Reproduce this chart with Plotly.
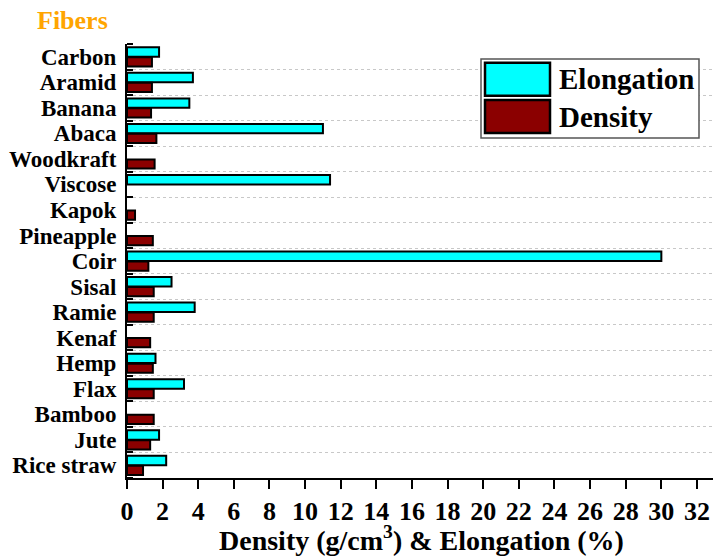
import plotly.graph_objects as go

# ---- data (top to bottom as shown) ----
fibers = ["Carbon", "Aramid", "Banana", "Abaca", "Woodkraft", "Viscose", "Kapok",
          "Pineapple", "Coir", "Sisal", "Ramie", "Kenaf", "Hemp", "Flax",
          "Bamboo", "Jute", "Rice straw"]
elongation = [1.8, 3.7, 3.5, 11.0, None, 11.4, None, None, 30.0, 2.5, 3.8,
              None, 1.6, 3.2, None, 1.8, 2.2]
density = [1.4, 1.4, 1.35, 1.65, 1.55, None, 0.45, 1.45, 1.2, 1.5, 1.5,
           1.3, 1.45, 1.5, 1.5, 1.3, 0.9]
x_ticks = list(range(0, 33, 2))

ypos = list(range(len(fibers) - 1, -1, -1))

FONT = "Liberation Serif"
W, H = 713, 559
L, R, T, B = 127, 0, 44, 81
pw, ph = W - L - R, H - T - B


def px(x):
    return (x - L) / pw


def py(y):
    return (H - B - y) / ph


fig = go.Figure()
fig.add_trace(go.Bar(
    orientation="h", x=elongation, y=ypos, name="Elongation",
    width=0.37, offset=0.0,
    marker=dict(color="#00FFFF", line=dict(color="black", width=2)),
))
fig.add_trace(go.Bar(
    orientation="h", x=density, y=ypos, name="Density",
    width=0.36, offset=-0.38,
    marker=dict(color="#8B0000", line=dict(color="black", width=2)),
))

fig.update_layout(
    width=W, height=H,
    margin=dict(l=L, r=R, t=T, b=B, autoexpand=False),
    paper_bgcolor="white", plot_bgcolor="white",
    showlegend=False,
    xaxis=dict(
        range=[0, 32.9], tickvals=x_ticks, ticktext=[str(v) for v in x_ticks],
        showline=True, linecolor="black", linewidth=2,
        ticks="outside", ticklen=9, tickwidth=2, tickcolor="black",
        tickfont=dict(family=FONT, size=26, color="black", weight="bold"),
        showgrid=False, zeroline=False,
    ),
    yaxis=dict(
        range=[-0.5, 16.5], tickvals=ypos, ticktext=fibers,
        ticks="", showline=True, linecolor="black", linewidth=2,
        tickfont=dict(family=FONT, size=23, color="black", weight="bold"),
        ticklabelstandoff=4,
        showgrid=False, zeroline=False,
        minor=dict(tick0=0.5, dtick=1, ticks="inside", ticklen=6, tickwidth=2,
                   tickcolor="black", showgrid=True, gridcolor="#c8c8c8",
                   griddash="dot", gridwidth=1),
    ),
)

# axis title
fig.add_annotation(
    xref="paper", yref="paper", x=px(421), y=py(538),
    text="Density (g/cm<sup>3</sup>) & Elongation (%)", showarrow=False,
    xanchor="center", yanchor="middle",
    font=dict(family=FONT, size=28, color="black", weight="bold"),
)
# "Fibers" heading
fig.add_annotation(
    xref="paper", yref="paper", x=px(72), y=py(20),
    text="Fibers", showarrow=False, xanchor="center", yanchor="middle",
    font=dict(family=FONT, size=26, color="#FFA500", weight="bold"),
)

# legend drawn manually (large swatches)
fig.add_shape(type="rect", xref="paper", yref="paper",
              x0=px(481), x1=px(699), y0=py(138), y1=py(59),
              fillcolor="white", line=dict(color="#555555", width=1.5))
for name, col, y0, y1 in [("Elongation", "#00FFFF", 62.7, 95.7),
                          ("Density", "#8B0000", 100, 133)]:
    fig.add_shape(type="rect", xref="paper", yref="paper",
                  x0=px(485), x1=px(550), y0=py(y1), y1=py(y0),
                  fillcolor=col, line=dict(color="black", width=2.5))
    fig.add_annotation(
        xref="paper", yref="paper", x=px(557), y=py((y0 + y1) / 2),
        text=name, showarrow=False, xanchor="left", yanchor="middle",
        font=dict(family=FONT, size=29, color="black", weight="bold"),
    )

fig.write_html(
    "out.html",
    config={"displayModeBar": False},
    post_script="document.body.style.margin='0';document.body.style.overflow='hidden';",
)
